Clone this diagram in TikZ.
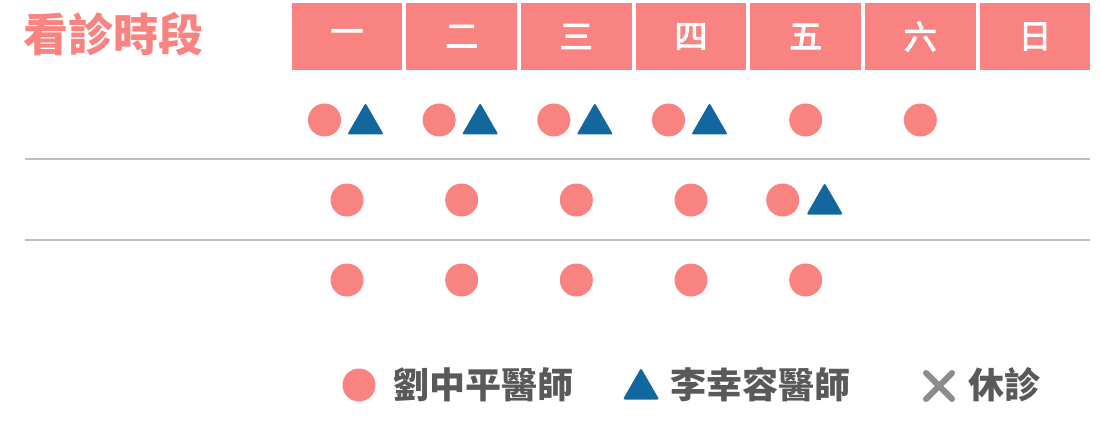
\documentclass[tikz,border=0pt]{standalone}
\usepackage{fontspec}
\newfontfamily\cjk{Noto Sans CJK TC}
\newfontfamily\cjkmid{Noto Sans CJK TC}[FakeBold=3]
\usetikzlibrary{shapes.geometric,shapes.misc}
\definecolor{salmon}{RGB}{248,131,128}
\definecolor{navy}{RGB}{18,103,158}
\definecolor{darktxt}{RGB}{89,89,89}
\definecolor{offgray}{RGB}{140,140,140}
\definecolor{rule}{RGB}{190,190,190}
\tikzset{
  title/.style={anchor=west,inner sep=0pt,text=salmon,font=\cjk\bfseries\fontsize{45}{45}\selectfont},
  daybox/.style={fill=salmon,minimum width=110.7pt,minimum height=67.6pt,inner sep=0pt,
    text=white,font=\cjkmid\fontsize{33}{33}\selectfont},
  liu/.style={circle,fill=salmon,minimum size=33pt,inner sep=0pt},
  lee/.style={regular polygon,regular polygon sides=3,fill=navy,rounded corners=2pt,
    minimum size=42pt,inner sep=0pt,outer sep=0pt},
  off/.style={cross out,draw=offgray,line width=6pt,line cap=round,minimum size=20pt,inner sep=0pt},
  legtext/.style={anchor=west,inner sep=0pt,text=darktxt,font=\cjk\bfseries\fontsize{36}{36}\selectfont},
  sep/.style={rule,line width=1.5pt}
}
\begin{document}
\begin{tikzpicture}[x=1pt,y=-1pt]
\useasboundingbox (0,0) rectangle (1100,425);
\node[title] (title) at (23,34) {看診時段};
\foreach \d [count=\i] in {一,二,三,四,五,六,日}
	\node[daybox] (d\i) at ({347+114.67*(\i-1)},36.5) {\d};
\draw[sep] (25,159) -- (1090,159);
\draw[sep] (25,240) -- (1090,240);
% first row
\foreach \c [evaluate=\c as \x using 347+114.67*(\c-1)] in {1,...,4} {
	\node[liu] (liu1\c) at (\x-22.5,120) {};
	\node[lee] (lee1\c) at (\x+18.5,124) {};
}
\foreach \c [evaluate=\c as \x using 347+114.67*(\c-1)] in {5,6}
	\node[liu] (liu1\c) at (\x,120) {};
% second row
\foreach \c [evaluate=\c as \x using 347+114.67*(\c-1)] in {1,...,4}
	\node[liu] (liu2\c) at (\x,200) {};
\node[liu] (liu25) at (782.7,200) {};
\node[lee] (lee25) at (824.7,204) {};
% third row
\foreach \c [evaluate=\c as \x using 347+114.67*(\c-1)] in {1,...,5}
	\node[liu] (liu3\c) at (\x,280) {};
% legend
\node[liu] (keyliu) at (359,385) {};
\node[legtext] (nameliu) at (393,385) {劉中平醫師};
\node[lee] (keylee) at (641,389) {};
\node[legtext] (namelee) at (670,385) {李幸容醫師};
\node[off] (keyoff) at (939,386) {};
\node[legtext] (nameoff) at (968,385) {休診};
\end{tikzpicture}
\end{document}
